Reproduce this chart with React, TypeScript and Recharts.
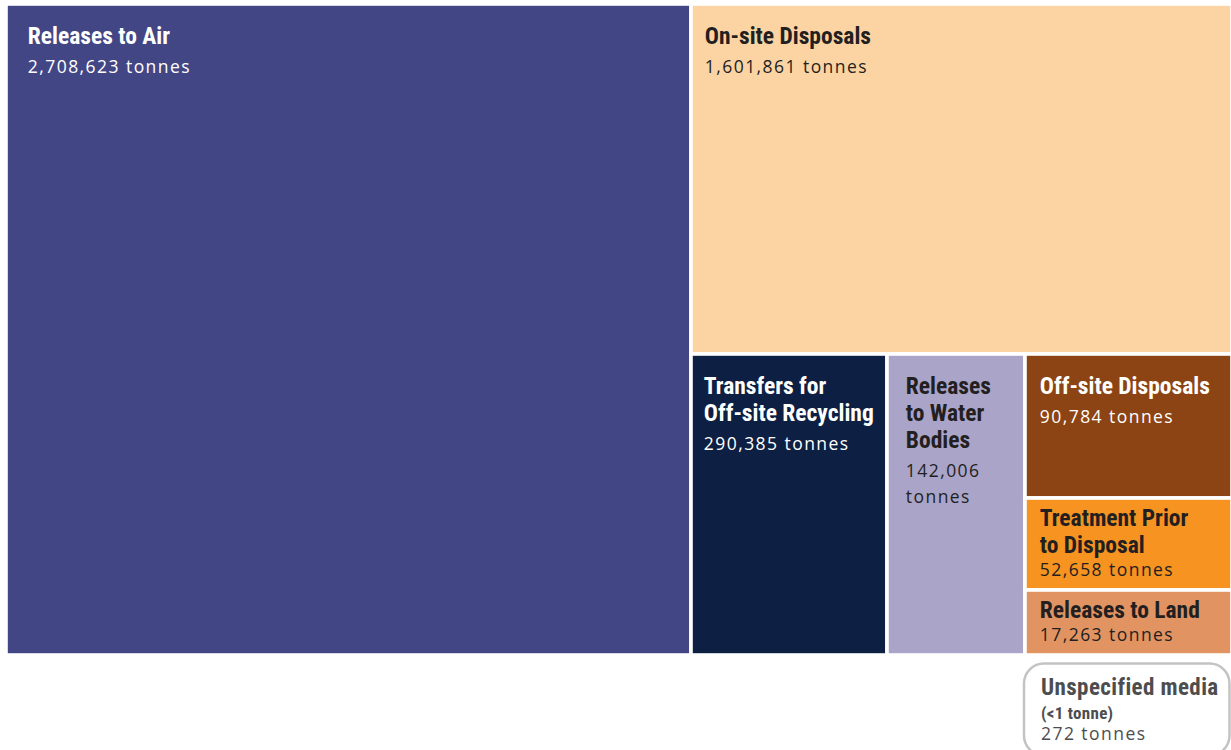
import React from 'react';
import { Treemap } from 'recharts';

// ---- data ----
const categories = [
  'Releases to Air',
  'On-site Disposals',
  'Transfers for Off-site Recycling',
  'Releases to Water Bodies',
  'Off-site Disposals',
  'Treatment Prior to Disposal',
  'Releases to Land',
];
const tonnes = [2708623, 1601861, 290385, 142006, 90784, 52658, 17263];
// share of the chart area each tile takes in the reference (%); the original
// tiles are not proportional to tonnes, small categories are enlarged
const drawnShare = [55.86, 23.72, 7.4, 5.19, 3.75, 2.39, 1.68];
const titleLines = [
  ['Releases to Air'],
  ['On-site Disposals'],
  ['Transfers for', 'Off-site Recycling'],
  ['Releases', 'to Water', 'Bodies'],
  ['Off-site Disposals'],
  ['Treatment Prior', 'to Disposal'],
  ['Releases to Land'],
];
const valueWrapped = [false, false, false, true, false, false, false];

const unspecifiedTitle = 'Unspecified media';
const unspecifiedNote = '(<1 tonne)';
const unspecifiedTonnes = 272;

// ---- styles ----
const fills = ['#434685', '#FCD4A3', '#0D1F42', '#A9A4C8', '#8D4414', '#F69321', '#E19462'];
const textColors = ['#FFFFFF', '#231F20', '#FFFFFF', '#231F20', '#FFFFFF', '#231F20', '#231F20'];
const insetX = [20, 12, 11, 17, 13, 13, 13];

const TITLE_FONT = "'Liberation Sans Narrow', 'Roboto Condensed', 'Arial Narrow', Roboto, sans-serif";
const VALUE_FONT = "'Open Sans', 'Noto Sans', sans-serif";
const GAP = 3.6;

const fmt = (v: number) => v.toLocaleString('en-US');

const leaf = (i: number) => ({ name: categories[i], size: drawnShare[i], idx: i });

// hierarchy that reproduces the reference's tiling
const treeData = [
  leaf(0),
  {
    name: 'right',
    children: [
      leaf(1),
      {
        name: 'bottom',
        children: [
          leaf(2),
          leaf(3),
          {
            name: 'column',
            children: [
              { name: 'upper', children: [leaf(4), leaf(5)] },
              leaf(6),
            ],
          },
        ],
      },
    ],
  },
];

const renderCell = (props: any) => {
  const { x, y, width, height, idx } = props;
  if (idx === undefined || (props.children && props.children.length)) return <g />;
  const small = height < 110;
  const fillTop = y + GAP / 2;
  const tx = x + GAP / 2 + insetX[idx];
  const base = fillTop + (small ? 26.3 : 38.5);
  const lines: string[] = titleLines[idx];
  const titleLH = 26.6;
  const valueBase = base + (lines.length - 1) * titleLH + (small ? 23.3 : 29);
  const valueLines = valueWrapped[idx] ? [fmt(tonnes[idx]), 'tonnes'] : [`${fmt(tonnes[idx])} tonnes`];
  const color = textColors[idx];
  return (
    <g>
      <rect x={x} y={y} width={width} height={height} fill={fills[idx]} stroke="#FFFFFF" strokeWidth={GAP} />
      <text fill={color} fontFamily={TITLE_FONT} fontWeight={700} fontSize={23.5}>
        {lines.map((l, k) => (
          <tspan key={k} x={tx} y={base + k * titleLH}>
            {l}
          </tspan>
        ))}
      </text>
      <text fill={color} fontFamily={VALUE_FONT} fontWeight={400} fontSize={17.5} letterSpacing={1.45}>
        {valueLines.map((l, k) => (
          <tspan key={k} x={tx} y={valueBase + k * 26.7}>
            {l}
          </tspan>
        ))}
      </text>
    </g>
  );
};

export default function App() {
  return (
    <div style={{ position: 'absolute', left: 0, top: 0, width: 1231, height: 750, overflow: 'hidden', background: '#fff' }}>
      <div style={{ position: 'absolute', left: 6, top: 3.5 }}>
        <Treemap
          width={1226}
          height={651}
          data={treeData}
          dataKey="size"
          aspectRatio={1}
          isAnimationActive={false}
          content={renderCell}
        />
      </div>
      <svg
        width={1231}
        height={750}
        style={{ position: 'absolute', left: 0, top: 0, pointerEvents: 'none' }}
      >
        <rect x={1024} y={663.5} width={205.5} height={92} rx={20} ry={20} fill="none" stroke="#C3C3C5" strokeWidth={2.5} />
        <text x={1041} y={695} fill="#4D4D4F" fontFamily={TITLE_FONT} fontWeight={700} fontSize={23} letterSpacing={0.4}>
          {unspecifiedTitle}
        </text>
        <text x={1041} y={718.5} fill="#4D4D4F" fontFamily={TITLE_FONT} fontWeight={700} fontSize={17} letterSpacing={0.3}>
          {unspecifiedNote}
        </text>
        <text x={1041} y={740} fill="#4D4D4F" fontFamily={VALUE_FONT} fontWeight={400} fontSize={17.5} letterSpacing={1.45}>
          {`${fmt(unspecifiedTonnes)} tonnes`}
        </text>
      </svg>
    </div>
  );
}
